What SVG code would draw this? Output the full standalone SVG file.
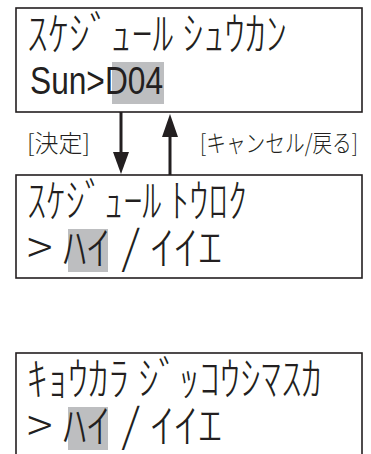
<svg xmlns="http://www.w3.org/2000/svg" width="371" height="454" viewBox="0 0 371 454">
<style>
.box{fill:#fff;stroke:#231f20;stroke-width:1.6}
.hl{fill:#bdbec0}
.kt{font-family:"Noto Sans CJK JP","Noto Sans CJK SC",sans-serif;font-size:46px;font-weight:300;fill:#231f20}
.lt{font-family:"Liberation Sans",Arial,sans-serif;font-size:38px;fill:#231f20}
.lb{font-family:"Noto Sans CJK JP","Noto Sans CJK SC",sans-serif;font-size:24px;font-weight:300;fill:#231f20}
.ln{stroke:#231f20;stroke-width:3;fill:none}
.ah{fill:#231f20}
</style>
<rect width="371" height="454" fill="#fff"/>
<g id="node-schedule-shukan">
<rect class="box" x="16" y="8" width="346" height="104"/>
<rect class="hl" x="112" y="62" width="52" height="42"/>
<text class="kt" x="27" y="50" textLength="260" lengthAdjust="spacingAndGlyphs">ｽｹｼﾞｭｰﾙ ｼｭｳｶﾝ</text>
<text class="lt" x="30" y="94" textLength="133" lengthAdjust="spacingAndGlyphs">Sun&gt;D04</text>
</g>
<g id="node-schedule-touroku">
<rect class="box" x="16" y="175" width="346" height="103"/>
<rect class="hl" x="68" y="229" width="40" height="43"/>
<text class="kt" x="27" y="217" textLength="220" lengthAdjust="spacingAndGlyphs">ｽｹｼﾞｭｰﾙ ﾄｳﾛｸ</text>
<text class="kt" x="27" y="264" textLength="195" lengthAdjust="spacingAndGlyphs">&gt; ﾊｲ / ｲｲｴ</text>
</g>
<g id="node-kyoukara">
<rect class="box" x="16" y="353" width="346" height="120"/>
<rect class="hl" x="68" y="407" width="40" height="43"/>
<text class="kt" x="27" y="395" textLength="295" lengthAdjust="spacingAndGlyphs">ｷｮｳｶﾗ ｼﾞｯｺｳｼﾏｽｶ</text>
<text class="kt" x="27" y="442" textLength="195" lengthAdjust="spacingAndGlyphs">&gt; ﾊｲ / ｲｲｴ</text>
</g>
<g id="connectors">
<line class="ln" x1="121" y1="112" x2="121" y2="153"/>
<polygon class="ah" points="113,152 129,152 121,174"/>
<line class="ln" x1="170" y1="136" x2="170" y2="175"/>
<polygon class="ah" points="162,137 178,137 170,114"/>
<text class="lb" x="27" y="152" textLength="63" lengthAdjust="spacingAndGlyphs">[決定]</text>
<text class="lb" x="200" y="152" textLength="158" lengthAdjust="spacingAndGlyphs">[キャンセル/戻る]</text>
</g>
</svg>
